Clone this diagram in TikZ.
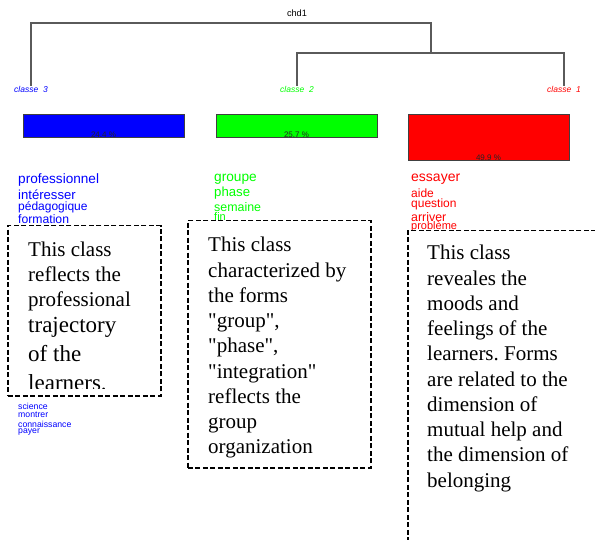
\documentclass[tikz,border=0pt]{standalone}
\usepackage{fontspec}
\setmainfont{Liberation Serif}
\setsansfont{Liberation Sans}
\usetikzlibrary{positioning,calc}
\definecolor{chdblue}{HTML}{0000FF}
\definecolor{chdgreen}{HTML}{00FF00}
\definecolor{chdred}{HTML}{FF0000}
\definecolor{chdgrey}{HTML}{5A5A5A}
\definecolor{chdbar}{HTML}{404040}
\frenchspacing

\begin{document}
\begin{tikzpicture}[x=1pt,y=-1pt,
  dendro/.style={chdgrey,line width=1.2pt},
  clab/.style={font=\sffamily\itshape\fontsize{8.5}{8.5}\selectfont,inner sep=0pt},
  bar/.style={draw=chdbar,line width=0.8pt,minimum width=161pt,inner sep=0pt},
  pct/.style={font=\sffamily\fontsize{8}{8}\selectfont,text=black!85,inner sep=0pt,anchor=base},
  word/.style={font=\sffamily,anchor=west,inner sep=0pt},
  note/.style={draw,fill=white,dash pattern=on 5pt off 2.5pt,line width=1.5pt,
               anchor=north west,inner sep=0pt},
  notetext/.style={font=\fontsize{21}{25.25}\selectfont,align=left,
                   anchor=north west,inner sep=0pt}]
  \useasboundingbox (0,0) rectangle (595,540);
  \clip (0,0) rectangle (595,540);
  % tree -- root title, class labels at the leaves
  \node[font=\sffamily\fontsize{9.2}{9.2}\selectfont,inner sep=0pt] (root) at (297,13) {chd1};
  \node[clab,text=chdblue]  (lab3) at (31,89)  {classe~~3};
  \node[clab,text=chdgreen] (lab2) at (297,89) {classe~~2};
  \node[clab,text=chdred]   (lab1) at (564,89) {classe~~1};
  \coordinate (j1) at (431,23);
  \coordinate (j2) at (431,53);
  \draw[dendro] (lab3.north) |- (j1) -- (j2);
  \draw[dendro] (lab2.north) |- (j2) -| (lab1.north);
  % class sizes
  \node[bar,fill=chdblue,minimum height=23pt]  (bar3) at (103.5,125.5) {};
  \node[bar,fill=chdgreen,minimum height=23pt] (bar2) at (296.5,125.5) {};
  \node[bar,fill=chdred,minimum height=46pt]   (bar1) at (488.5,137) {};
  \node[pct] (pct3) at (bar3.south) {24.4 \%};
  \node[pct] (pct2) at (bar2.south) {25.7 \%};
  \node[pct] (pct1) at (bar1.south) {49.9 \%};
  % typical forms of each class
  \foreach \w/\y/\s [count=\i] in {professionnel/180/13.6, intéresser/195/13.1,
                                   pédagogique/207/12, formation/219/12.2}
    {\node[word,text=chdblue] (blue\i) at (18,\y) {\fontsize{\s}{\s}\selectfont\w};}
  \foreach \w/\y [count=\i from 5] in {science/406, montrer/415,
                                       connaissance/424, payer/432}
    {\node[word,text=chdblue] (blue\i) at (18,\y) {\fontsize{8.7}{8.7}\selectfont\w};}
  \foreach \w/\y/\s [count=\i] in {groupe/179/13.7, phase/193/13.2,
                                   semaine/207/12.4, fin/217/11}
    {\node[word,text=chdgreen] (green\i) at (214,\y) {\fontsize{\s}{\s}\selectfont\w};}
  \foreach \w/\y/\s [count=\i] in {essayer/179/14, aide/193/12, question/204/12,
                                   arriver/217/12.4, problème/227/11}
    {\node[word,text=chdred] (red\i) at (411,\y) {\fontsize{\s}{\s}\selectfont\w};}
  % comment boxes laid over the lists
  \node[note,minimum width=153pt,minimum height=170pt] (note3) at (7,225) {};
  \begin{scope}
    \clip ([xshift=2pt,yshift=-2pt]note3.north west)
          rectangle ([xshift=-2pt,yshift=8pt]note3.south east);
    \node[notetext,font=\fontsize{21}{24.5}\selectfont] (text3)
         at ([xshift=21pt,yshift=-16.7pt]note3.north west)
         {This class\\[0.5pt] reflects the\\[0.5pt] professional\\[1.5pt]
          {\fontsize{23}{24.5}\selectfont trajectory}\\[4.5pt]
          {\fontsize{23}{24.5}\selectfont of the}\\[4.5pt]
          {\fontsize{23}{24.5}\selectfont learners.}};
  \end{scope}
  \node[note,minimum width=183pt,minimum height=247pt] (note2) at (187,220) {};
  \node[notetext] (text2) at ([xshift=21pt,yshift=-17.2pt]note2.north west)
       {This class\\ characterized by\\ the forms\\ \textquotedbl group\textquotedbl,\\
        \textquotedbl phase\textquotedbl,\\ \textquotedbl integration\textquotedbl\\
        reflects the\\ group\\ organization};
  \node[note,minimum width=213pt,minimum height=340pt] (note1) at (407,230) {};
  \node[notetext] (text1) at ([xshift=20pt,yshift=-15.2pt]note1.north west)
       {This class\\ reveales the\\ moods and\\ feelings of the\\ learners. Forms\\
        are related to the\\ dimension of\\ mutual help and\\ the dimension of\\ belonging};
\end{tikzpicture}
\end{document}
